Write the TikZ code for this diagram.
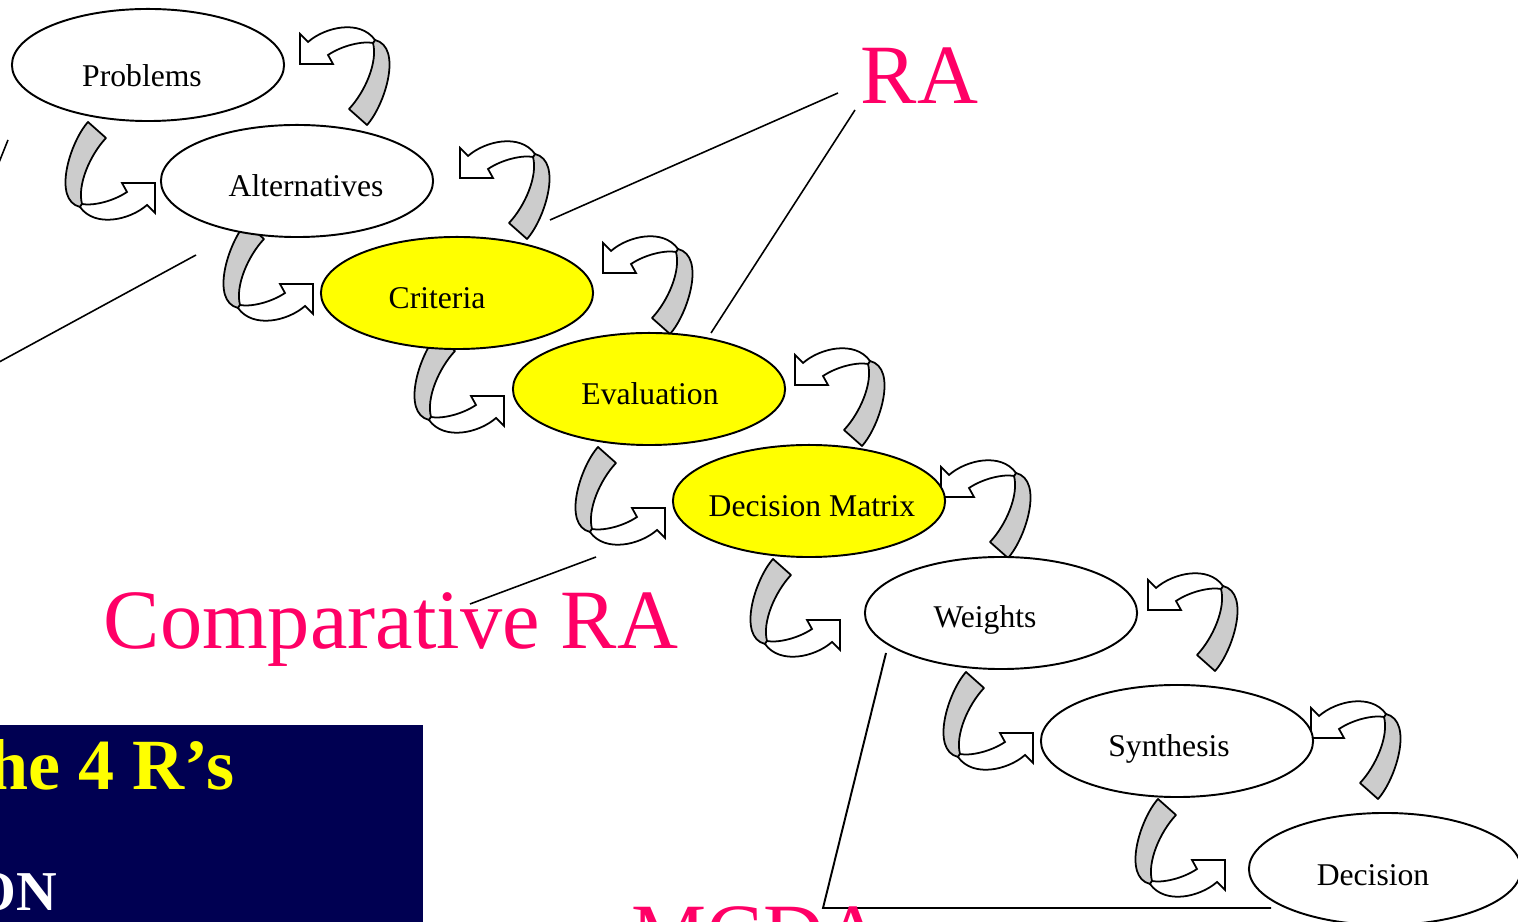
\documentclass[tikz,border=0pt]{standalone}
\usepackage{fontspec}
\setmainfont{Liberation Serif}
\usetikzlibrary{shapes.geometric}
\definecolor{Ribbon}{HTML}{CCCCCC}
\definecolor{Canary}{HTML}{FFFF00}
\definecolor{Rose}{HTML}{FF0066}
\definecolor{Navy}{HTML}{000052}
\tikzset{
  stage/.style={ellipse,draw,line width=0.55pt,minimum width=2.72cm,minimum height=1.12cm,inner sep=0pt},
  stagetext/.style={font=\fontsize{9}{11}\selectfont,anchor=base,inner sep=0pt},
  bigtag/.style={font=\fontsize{24}{28}\selectfont,text=Rose,anchor=base west,inner sep=0pt},
  % twisted ribbon arrow, tip at the origin
  twistarrow/.pic={
    \filldraw[fill=Ribbon,line width=0.5pt,line join=round] (-67,-61) .. controls (-85,-41) and (-103,17) .. (-75,24)
      -- (-73,21) .. controls (-78,2) and (-65,-28) .. (-49,-45) -- cycle;
    \filldraw[fill=white,line width=0.5pt] (-73,21) .. controls (-63,23) and (-43,19) .. (-28,9)
      -- (-33,0) -- (0,0) -- (0,30) -- (-8,22) .. controls (-25,37) and (-60,45) .. (-75,24) -- cycle;
  }
}
\begin{document}
\begin{tikzpicture}[x=0.01cm,y=-0.01cm]
  \clip (0,0) rectangle (1518,922);
  % title block
  \fill[Navy] (0,725) rectangle (423,922);
  \node[font=\bfseries\fontsize{20.5}{24}\selectfont,text=Canary,anchor=base east,inner sep=0pt] (title) at (235,790) {he 4 R’s};
  \node[font=\bfseries\fontsize{16}{19}\selectfont,text=white,anchor=base east,inner sep=0pt] (sub) at (58,910) {ON};
  % lines
  \coordinate (raA) at (838,93);
  \coordinate (raB) at (855,110);
  \coordinate (altR) at (550,220);
  \coordinate (evalT) at (711,333);
  \coordinate (leftA) at (8,140);
  \coordinate (leftB) at (-2,165);
  \coordinate (leftC) at (196,255);
  \coordinate (leftD) at (-10,367);
  \coordinate (craA) at (596,557);
  \coordinate (craB) at (470,604);
  \coordinate (mcA) at (886,653);
  \coordinate (mcB) at (823,908);
  \coordinate (mcC) at (1271,908);
  \draw[line width=0.45pt] (raA) -- (altR);
  \draw[line width=0.45pt] (raB) -- (evalT);
  \draw[line width=0.45pt] (leftA) -- (leftB);
  \draw[line width=0.45pt] (leftC) -- (leftD);
  \draw[line width=0.45pt] (craA) -- (craB);
  \draw[line width=0.55pt] (mcA) -- (mcB) -- (mcC);
  % arrows
  \foreach \x/\y in {155/183,313/284,504/396,665/508,840/620,1033/733,1225/860}
    \pic at (\x,\y) {twistarrow};
  \foreach \x/\y in {300/64,460/178,603/273,795/385,941/497,1148/610,1311/738}
    \pic[rotate=180] at (\x,\y) {twistarrow};
  % stages
  \foreach \n/\x/\y/\c/\tx/\ty/\t in {prob/148/65/white/142/87/Problems,
      alt/297/181/white/306/197/Alternatives,
      crit/457/293/Canary/437/309/Criteria,
      eval/649/389/Canary/650/405/Evaluation,
      dm/809/501/Canary/812/517/Decision Matrix,
      wts/1001/613/white/985/628/Weights,
      syn/1177/741/white/1169/757/Synthesis,
      dec/1385/869/white/1373/885/Decision}{
    \node[stage,fill=\c] (\n) at (\x,\y) {};
    \node[stagetext] (\n-t) at (\tx,\ty) {\t};
  }
  % big labels
  \node[bigtag] (ra) at (860,104) {RA};
  \node[bigtag] (cra) at (103,649) {Comparative RA};
  \node[bigtag] (mcda) at (631,962) {MCDA};
\end{tikzpicture}
\end{document}
